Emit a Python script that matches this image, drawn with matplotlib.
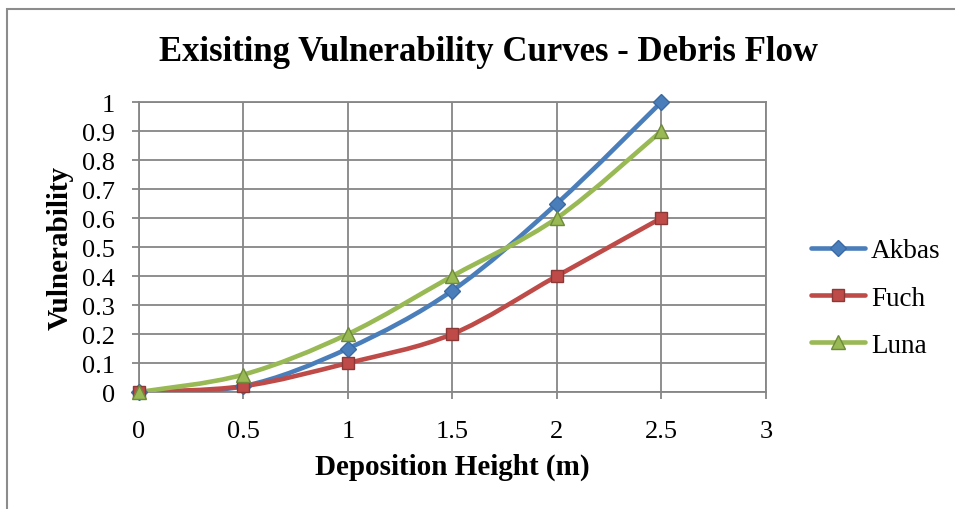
import numpy as np
import matplotlib
matplotlib.use('Agg')
import matplotlib.pyplot as plt
from matplotlib.path import Path
from matplotlib.patches import PathPatch, Rectangle
from matplotlib.lines import Line2D

# Vulnerability vs deposition height for three published curves
heights = [0, 0.5, 1, 1.5, 2, 2.5]
akbas = [0, 0.02, 0.15, 0.35, 0.65, 1.0]
fuch = [0, 0.02, 0.10, 0.20, 0.40, 0.60]
luna = [0, 0.06, 0.20, 0.40, 0.60, 0.90]

x_ticks = [0, 0.5, 1, 1.5, 2, 2.5, 3]
y_ticks = [0, 0.1, 0.2, 0.3, 0.4, 0.5, 0.6, 0.7, 0.8, 0.9, 1]

plt.rcParams['font.family'] = ['Liberation Serif', 'DejaVu Serif']


def smooth_path(xs, ys):
    """Excel-like smoothed line: cubic Bezier segments through each point."""
    pts = np.column_stack([xs, ys]).astype(float)
    n = len(pts)
    verts = [pts[0]]
    codes = [Path.MOVETO]
    for i in range(n - 1):
        p0 = pts[max(i - 1, 0)]
        p1 = pts[i]
        p2 = pts[i + 1]
        p3 = pts[min(i + 2, n - 1)]
        c1 = p1 + (p2 - p0) / 6.0
        c2 = p2 - (p3 - p1) / 6.0
        verts += [c1, c2, p2]
        codes += [Path.CURVE4] * 3
    return Path(verts, codes)


fig = plt.figure(figsize=(9.55, 5.10), dpi=100)
ax = fig.add_axes([0.1455, 0.2294, 0.6565, 0.5686])

grid_col = '#868686'
series = [
    ('Akbas', akbas, '#4A7EBB', 'D', '#3A6AA5', 8),
    ('Fuch', fuch, '#BE4B48', 's', '#8C3836', 9),
    ('Luna', luna, '#98B954', '^', '#6E8A3A', 10),
]

handles = []
for name, vals, col, mk, edge, ms in series:
    patch = PathPatch(smooth_path(heights, vals), facecolor='none', edgecolor=col,
                      lw=3.3, capstyle='round', joinstyle='round', zorder=3)
    ax.add_patch(patch)
    ax.plot(heights, vals, ls='none', marker=mk, ms=ms, mfc=col, mec=edge,
            mew=1.0, zorder=4, clip_on=False)
    handles.append(Line2D([0], [0], color=col, lw=3.3, marker=mk, ms=ms,
                          mfc=col, mec=edge, mew=1.0, solid_capstyle='round'))

ax.set_xlim(0, 3)
ax.set_ylim(0, 1)
ax.set_xticks(x_ticks)
ax.set_xticklabels([f'{t:g}' for t in x_ticks])
ax.set_yticks(y_ticks)
ax.set_yticklabels([f'{t:g}' for t in y_ticks])
ax.grid(True, color=grid_col, lw=1.3)
ax.set_axisbelow(True)
for sp in ax.spines.values():
    sp.set_color(grid_col)
    sp.set_linewidth(1.3)
ax.tick_params(axis='both', colors=grid_col, length=5, width=1.3,
               labelsize=19, labelcolor='black')
ax.tick_params(axis='x', pad=15)
ax.tick_params(axis='y', pad=12)

ax.set_xlabel('Deposition Height (m)', fontsize=21, fontweight='bold')
ax.xaxis.set_label_coords(0.5, -0.21)
ax.set_ylabel('Vulnerability', fontsize=21, fontweight='bold')
ax.yaxis.set_label_coords(-0.104, 0.5)

fig.text(0.511, 0.898, 'Exisiting Vulnerability Curves - Debris Flow',
         ha='center', va='center', fontsize=25, fontweight='bold')

fig.legend(handles, [s[0] for s in series], loc='center left',
           bbox_to_anchor=(0.824, 0.4137), frameon=False, fontsize=19.5,
           handlelength=2.0, labelspacing=0.82, handletextpad=0.2)

# outer chart border
fig.add_artist(Rectangle((7 / 955, -0.1), 1.2, 1 - 10 / 510 + 0.1,
                         transform=fig.transFigure, fill=False,
                         edgecolor='#8C8C8C', lw=1.5))

fig.savefig('out.png', dpi=100)
